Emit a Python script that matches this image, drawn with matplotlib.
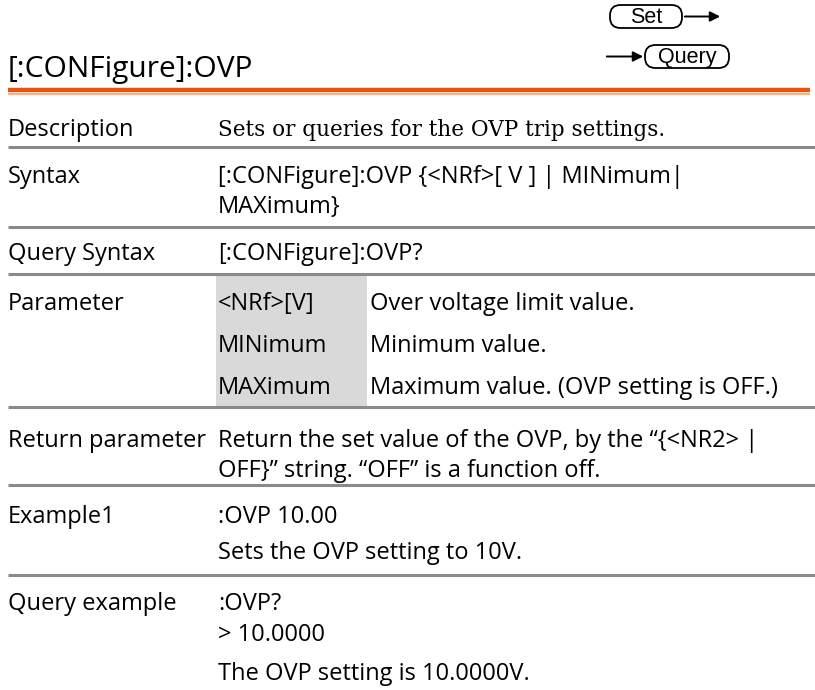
import matplotlib.pyplot as plt
from matplotlib.patches import FancyBboxPatch, Rectangle

# page content
title = "[:CONFigure]:OVP"
labels = ["Description", "Syntax", "Query Syntax", "Parameter",
          "Return parameter", "Example1", "Query example"]
description = "Sets or queries for the OVP trip settings."
syntax = ["[:CONFigure]:OVP {<NRf>[ V ] | MINimum|", "MAXimum}"]
query_syntax = "[:CONFigure]:OVP?"
param_names = ["<NRf>[V]", "MINimum", "MAXimum"]
param_descr = ["Over voltage limit value.", "Minimum value.",
               "Maximum value. (OVP setting is OFF.)"]
return_text = ["Return the set value of the OVP, by the \u201c{<NR2> |",
               "OFF}\u201d string. \u201cOFF\u201d is a function off."]
example1 = [":OVP 10.00", "Sets the OVP setting to 10V."]
query_example = [":OVP?", "> 10.0000", "The OVP setting is 10.0000V."]

# layout (pixels, y down)
W, H = 815, 690
label_x, col_x, descr_x = 8, 218, 370
label_y = [136, 183, 260, 310, 447, 523, 610]
sep_y = [147, 227, 274, 407, 485, 575]
line_gray = "#8a8a8a"
sans = "Open Sans"
fs = 17

fig = plt.figure(figsize=(W / 100, H / 100), dpi=100)
ax = fig.add_axes([0, 0, 1, 1])
ax.set_xlim(0, W)
ax.set_ylim(H, 0)
ax.axis("off")

# header
ax.text(label_x, 77, title, fontsize=21.5, family=sans, va="baseline")
ax.plot([8, 810], [90, 90], color="#e8520c", lw=3.2, solid_capstyle="butt")
ax.plot([8, 810], [94, 94], color="#f5b487", lw=1.5, solid_capstyle="butt")

# Set / Query icons
def tag(x, y, w, h, s):
    ax.add_patch(FancyBboxPatch((x, y), w, h, boxstyle="round,pad=0,rounding_size=10.5",
                                fc="white", ec="black", lw=1.3))
    ax.text(x + w / 2, y + h / 2 + 1, s, fontsize=15.5, family="Liberation Sans",
            ha="center", va="center")

tag(610, 5, 72, 23, "Set")
ax.annotate("", xy=(723, 16.5), xytext=(682, 16.5),
            arrowprops=dict(arrowstyle="-|>", color="black", lw=1.4, mutation_scale=15))
tag(645, 45, 84, 23, "Query")
ax.annotate("", xy=(646, 56.5), xytext=(604, 56.5),
            arrowprops=dict(arrowstyle="-|>", color="black", lw=1.4, mutation_scale=15))

# separators
for y in sep_y:
    ax.plot([8, W], [y, y], color=line_gray, lw=2.2, solid_capstyle="butt")

# gray parameter column
ax.add_patch(Rectangle((216, 276), 151, 130, fc="#d9d9d9", ec="none"))

# labels
for lab, y in zip(labels, label_y):
    ax.text(label_x, y, lab, fontsize=fs, family=sans, va="baseline")

ax.text(col_x, label_y[0], description, fontsize=15.5, family="DejaVu Serif", va="baseline")
for i, s in enumerate(syntax):
    ax.text(col_x, label_y[1] + 30 * i, s, fontsize=fs, family=sans, va="baseline")
ax.text(col_x, label_y[2], query_syntax, fontsize=fs, family=sans, va="baseline")
for i, (n, d) in enumerate(zip(param_names, param_descr)):
    ax.text(col_x, label_y[3] + 42 * i, n, fontsize=fs, family=sans, va="baseline")
    ax.text(descr_x, label_y[3] + 42 * i, d, fontsize=fs, family=sans, va="baseline")
for i, s in enumerate(return_text):
    ax.text(col_x, label_y[4] + 30 * i, s, fontsize=fs, family=sans, va="baseline")
for i, s in enumerate(example1):
    ax.text(col_x, label_y[5] + 36 * i, s, fontsize=fs, family=sans, va="baseline")
for i, s in enumerate(query_example):
    ax.text(col_x, [610, 641, 680][i], s, fontsize=fs, family=sans, va="baseline")

fig.savefig("out.png", dpi=100)
